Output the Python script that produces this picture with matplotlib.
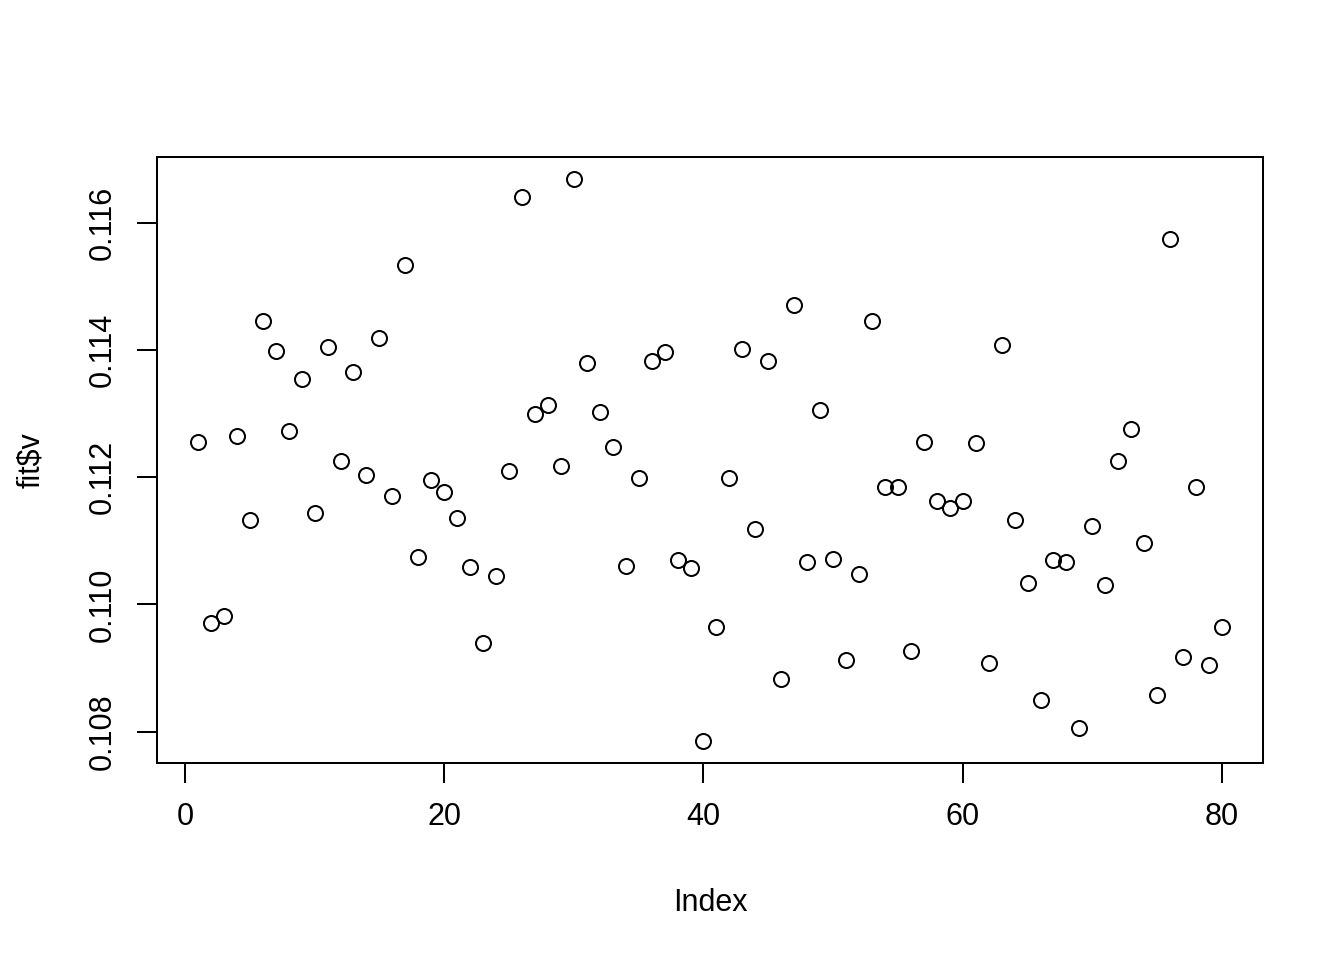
import numpy as np
import matplotlib
matplotlib.use("Agg")
from matplotlib import pyplot as plt

# values
index = list(range(1, 81))
fit_v = [
	0.11256, 0.10970, 0.10982, 0.11264, 0.11133, 0.11446, 0.11399, 0.11273, 0.11355, 0.11144,
	0.11405, 0.11226, 0.11366, 0.11203, 0.11418, 0.11171, 0.11533, 0.11074, 0.11195, 0.11177,
	0.11136, 0.11059, 0.10940, 0.11045, 0.11210, 0.11640, 0.11300, 0.11314, 0.11217, 0.11668,
	0.11380, 0.11303, 0.11247, 0.11061, 0.11198, 0.11383, 0.11397, 0.11070, 0.11058, 0.10786,
	0.10965, 0.11199, 0.11401, 0.11119, 0.11383, 0.10882, 0.11470, 0.11066, 0.11305, 0.11072,
	0.10912, 0.11048, 0.11446, 0.11185, 0.11184, 0.10926, 0.11256, 0.11163, 0.11152, 0.11162,
	0.11253, 0.10908, 0.11408, 0.11133, 0.11033, 0.10849, 0.11070, 0.11066, 0.10806, 0.11124,
	0.11030, 0.11226, 0.11276, 0.11097, 0.10857, 0.11574, 0.10918, 0.11184, 0.10904, 0.10964,
]
x_ticks = [0, 20, 40, 60, 80]
y_ticks = [0.108, 0.110, 0.112, 0.114, 0.116]

def main():

	plt.rcParams['font.family'] = ['Liberation Sans', 'DejaVu Sans']

	fig = plt.figure(figsize=(13.44, 9.6), dpi=100)
	ax = fig.add_axes([0.1168, 0.2052, 0.8229, 0.6313])

	ax.plot(index, fit_v, linestyle='none', marker='o', markersize=10.8,
		markerfacecolor='none', markeredgecolor='black', markeredgewidth=1.45)

	# R style 4% padding
	x_pad = (max(index) - min(index)) * 0.04
	y_pad = (max(fit_v) - min(fit_v)) * 0.04
	ax.set_xlim(min(index) - x_pad, max(index) + x_pad)
	ax.set_ylim(min(fit_v) - y_pad, max(fit_v) + y_pad)

	ax.set_xticks(x_ticks)
	ax.set_xticklabels([str(t) for t in x_ticks])
	ax.set_yticks(y_ticks)
	ax.set_yticklabels(['%.3f' % t for t in y_ticks], rotation=90, va='center')

	for s in ax.spines.values():
		s.set_linewidth(1.45)

	ax.tick_params(axis='both', length=14.4, width=1.45, labelsize=22, color='black')
	ax.tick_params(axis='x', pad=14)
	ax.tick_params(axis='y', pad=14)

	ax.set_xlabel('Index', fontsize=22, labelpad=40)
	ax.set_ylabel('fit$v', fontsize=22, labelpad=30)

	fig.savefig('out.png', dpi=100)


if __name__ == '__main__':
	main()
